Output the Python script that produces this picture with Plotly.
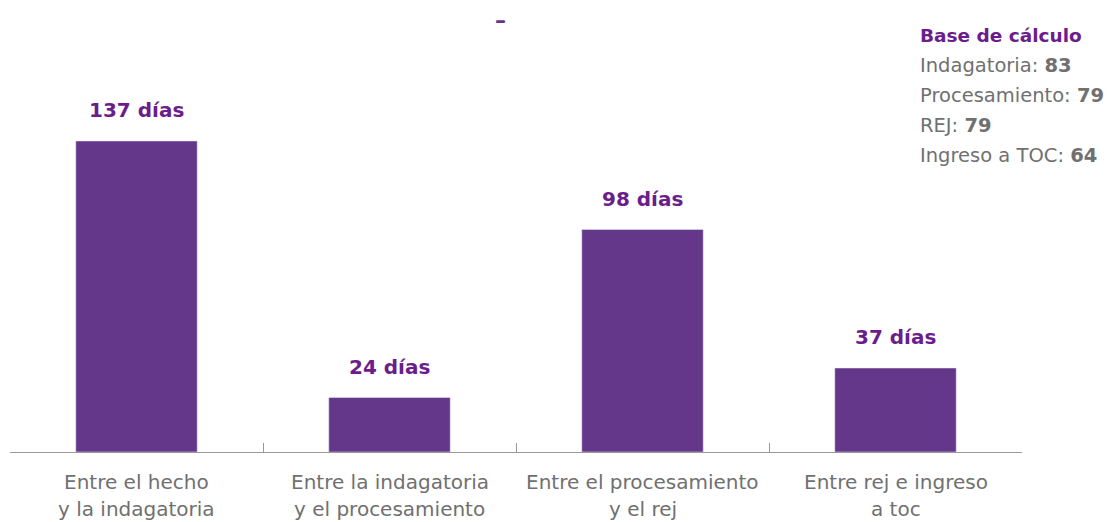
import plotly.graph_objects as go

categories = ["Entre el hecho<br>y la indagatoria", "Entre la indagatoria<br>y el procesamiento",
              "Entre el procesamiento<br>y el rej", "Entre rej e ingreso<br>a toc"]
values = [137, 24, 98, 37]
value_labels = ["137 días", "24 días", "98 días", "37 días"]
base_title = "Base de cálculo"
base_names = ["Indagatoria", "Procesamiento", "REJ", "Ingreso a TOC"]
base_counts = [83, 79, 79, 64]

PURPLE = "#64378a"
LABEL_PURPLE = "#6b1d8c"
GRAY = "#707070"
FONT = "DejaVu Sans"

fig = go.Figure(go.Bar(x=categories, y=values, marker_color=PURPLE, width=0.48,
                       hoverinfo="skip"))

# pixel helpers relative to the plot area
px_w, px_h = 1012, 392
def px_x(x): return (x - 10) / px_w
def px_y(y): return (452 - y) / px_h

annotations = []
for c, v, t in zip(categories, values, value_labels):
    annotations.append(dict(x=c, y=v, text=f"<b>{t}</b>", showarrow=False, yanchor="bottom",
                            yshift=17, font=dict(family=FONT, size=20, color=LABEL_PURPLE)))

# category labels (two lines, wider line spacing than plotly's default)
for c in categories:
    for j, line in enumerate(c.split("<br>")):
        annotations.append(dict(x=c, xref="x", yref="paper", y=px_y(482 + j * 27),
                                yanchor="middle", xanchor="center", text=line, showarrow=False,
                                font=dict(family=FONT, size=20, color=GRAY)))

annotations.append(dict(xref="paper", yref="paper", x=px_x(918), y=px_y(36), xanchor="left",
                        yanchor="middle", text=f"<b>{base_title}</b>", showarrow=False,
                        font=dict(family=FONT, size=18.5, color=LABEL_PURPLE)))
for i, (n, c) in enumerate(zip(base_names, base_counts)):
    annotations.append(dict(xref="paper", yref="paper", x=px_x(918), y=px_y(66 + i * 29.7),
                            xanchor="left", yanchor="middle", text=f"{n}: <b>{c}</b>",
                            showarrow=False, font=dict(family=FONT, size=19.5, color=GRAY)))
annotations.append(dict(xref="paper", yref="paper", x=px_x(500), y=px_y(21), xanchor="center",
                        yanchor="middle", text="<b>–</b>", showarrow=False,
                        font=dict(family=FONT, size=22, color=PURPLE)))

fig.update_layout(
    width=1115, height=522,
    margin=dict(l=2, r=101, t=52, b=78),
    plot_bgcolor="white", paper_bgcolor="white",
    showlegend=False,
    annotations=annotations,
    xaxis=dict(showline=True, linecolor="#999999", linewidth=1, ticks="inside", ticklen=9,
               tickcolor="#999999", tickson="boundaries", showticklabels=False, showgrid=False),
    yaxis=dict(range=[0, 392 / 2.27], visible=False, showgrid=False, zeroline=False),
)
fig.write_html("out.html")
